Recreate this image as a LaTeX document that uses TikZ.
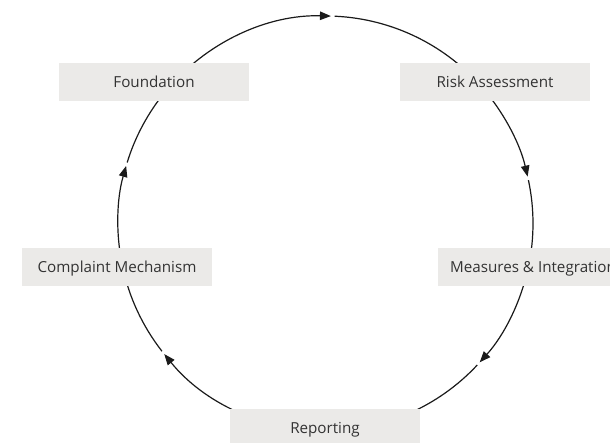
\documentclass[tikz,border=0pt]{standalone}
\usepackage{fontspec}
\setmainfont{Open Sans}
\usetikzlibrary{arrows.meta,calc}
\pgfdeclarelayer{bg}
\pgfsetlayers{bg,main}
\definecolor{boxfill}{HTML}{EBEAE8}
\definecolor{txtcol}{HTML}{333333}
\definecolor{lncol}{HTML}{1A1A1A}
\tikzset{
  stagebox/.style={fill=boxfill, text=txtcol, minimum width=190pt, minimum height=38pt,
    inner sep=0pt, text height=10.8pt, text depth=0pt,
    font=\fontsize{15.2pt}{18pt}\selectfont},
  flowline/.style={draw=lncol, line width=1.2pt},
  flowtip/.style={-{Triangle[length=11pt,width=8.5pt]}}
}
% #1 source node, #2 target node, #3 arrow tip angle on the cycle
\newcommand\cycedge[3]{%
  \draw[flowline,flowtip] let \p1=($(#1)-(c)$), \n1={atan2(\y1,\x1)} in
    ($(c)+(\n1:207.5pt)$) arc[start angle=\n1, end angle=#3, radius=207.5pt];
  \draw[flowline] let \p2=($(#2)-(c)$), \n2={atan2(\y2,\x2)}, \n3={#3-1},
    \n4={\n2-360*(\n2>\n3)} in
    ($(c)+(\n3:207.5pt)$) arc[start angle=\n3, end angle=\n4, radius=207.5pt];
}
\begin{document}
\begin{tikzpicture}[x=1pt,y=1pt]
\useasboundingbox (0,0) rectangle (610,443);
\clip (0,0) rectangle (610,443);
\coordinate (c) at (325.5,219.5);
\node[stagebox] (fnd) at (154,361) {Foundation};
\node[stagebox] (rsk) at (495,361) {Risk Assessment};
\node[stagebox] (msr) at (533,175.5) {Measures \& Integration};
\node[stagebox] (rep) at (325,15) {Reporting};
\node[stagebox] (cmp) at (117,175.5) {Complaint Mechanism};
\begin{pgfonlayer}{bg}
\cycedge{fnd}{rsk}{88.5}
\cycedge{rsk}{msr}{13.06}
\cycedge{msr}{rep}{-42}
\cycedge{rep}{cmp}{-141}
\cycedge{cmp}{fnd}{-196.1}
\end{pgfonlayer}
\end{tikzpicture}
\end{document}
